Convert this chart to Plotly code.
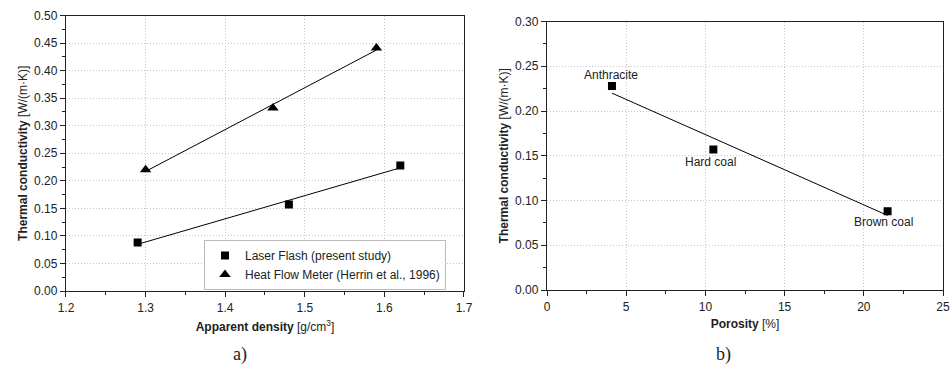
import numpy as np
import plotly.graph_objects as go

# Panel a) data
lf_density = [1.29, 1.48, 1.62]
lf_conductivity = [0.088, 0.157, 0.228]
hfm_density = [1.30, 1.46, 1.59]
hfm_conductivity = [0.220, 0.332, 0.441]

# Panel b) data
coal_types = ["Anthracite", "Hard coal", "Brown coal"]
porosity = [4.1, 10.5, 21.5]
coal_conductivity = [0.228, 0.157, 0.088]

FONT = "Liberation Sans, Arial, sans-serif"


def fit_line(x, y):
    k, b = np.polyfit(x, y, 1)
    xs = np.array([min(x), max(x)])
    return xs, k * xs + b


fig = go.Figure()

# Panel a
fx, fy = fit_line(lf_density, lf_conductivity)
fig.add_trace(go.Scatter(x=fx, y=fy, mode="lines", line=dict(color="black", width=1),
                         showlegend=False, xaxis="x", yaxis="y", hoverinfo="skip"))
fx, fy = fit_line(hfm_density, hfm_conductivity)
fig.add_trace(go.Scatter(x=fx, y=fy, mode="lines", line=dict(color="black", width=1),
                         showlegend=False, xaxis="x", yaxis="y", hoverinfo="skip"))
fig.add_trace(go.Scatter(x=lf_density, y=lf_conductivity, mode="markers",
                         marker=dict(symbol="square", size=8, color="black"),
                         name="Laser Flash (present study)", xaxis="x", yaxis="y"))
fig.add_trace(go.Scatter(x=hfm_density, y=hfm_conductivity, mode="markers",
                         marker=dict(symbol="triangle-up", size=10, color="black"),
                         name="Heat Flow Meter (Herrin et al., 1996)", xaxis="x", yaxis="y"))

# Panel b
fx, fy = fit_line(porosity, coal_conductivity)
fig.add_trace(go.Scatter(x=fx, y=fy, mode="lines", line=dict(color="black", width=1),
                         showlegend=False, xaxis="x2", yaxis="y2", hoverinfo="skip"))
fig.add_trace(go.Scatter(x=porosity, y=coal_conductivity, mode="markers",
                         marker=dict(symbol="square", size=8, color="black"),
                         showlegend=False, xaxis="x2", yaxis="y2"))

label_pos = [(4.02, 0.2406), (10.29, 0.1434), (21.23, 0.0763)]
for name, (lx, ly) in zip(coal_types, label_pos):
    fig.add_annotation(x=lx, y=ly, xref="x2", yref="y2", text=name, showarrow=False,
                       font=dict(family=FONT, size=12, color="#222"))

axis_common = dict(
    showline=True, linecolor="#222", linewidth=1.3, mirror=True,
    ticks="outside", ticklen=5, tickwidth=1, tickcolor="#222",
    showgrid=True, gridcolor="#c4c4c4", griddash="1px,2px", gridwidth=1,
    zeroline=False, automargin=False,
    tickfont=dict(family=FONT, size=12, color="#222"),
)

fig.update_layout(
    template="none",
    width=951, height=382,
    margin=dict(l=0, r=0, t=0, b=0, autoexpand=False),
    paper_bgcolor="white", plot_bgcolor="white",
    font=dict(family=FONT, size=12, color="#222"),
    xaxis=dict(domain=[0.0694, 0.4879], range=[1.2, 1.7], dtick=0.1, tickformat=".1f",
               minor=dict(ticks="outside", ticklen=3, dtick=0.05, tickcolor="#222", showgrid=False),
               title=dict(text="<b>Apparent density</b> [g/cm<sup>3</sup>]", standoff=9,
                          font=dict(family=FONT, size=12)),
               anchor="y", **axis_common),
    yaxis=dict(domain=[0.2382, 0.9594], range=[0, 0.5], dtick=0.05, tickformat=".2f",
               minor=dict(ticks="outside", ticklen=3, dtick=0.025, tickcolor="#222", showgrid=False),
               title=dict(text="<b>Thermal conductivity</b> [W/(m·K)]", standoff=3,
                          font=dict(family=FONT, size=12)),
               anchor="x", **axis_common),
    xaxis2=dict(domain=[0.5752, 0.9916], range=[0, 25], dtick=5,
                minor=dict(ticks="outside", ticklen=3, dtick=2.5, tickcolor="#222", showgrid=False),
                title=dict(text="<b>Porosity</b> [%]", standoff=7,
                           font=dict(family=FONT, size=12)),
                anchor="y2", **axis_common),
    yaxis2=dict(domain=[0.2408, 0.9437], range=[0, 0.3], dtick=0.05, tickformat=".2f",
                minor=dict(ticks="outside", ticklen=3, dtick=0.025, tickcolor="#222", showgrid=False),
                title=dict(text="<b>Thermal conductivity</b> [W/(m·K)]", standoff=3,
                           font=dict(family=FONT, size=12)),
                anchor="x2", **axis_common),
    legend=dict(x=0.2145, y=0.3717, xanchor="left", yanchor="top",
                bordercolor="#bbbbbb", borderwidth=1, bgcolor="white",
                font=dict(family=FONT, size=12, color="#222"),
                tracegroupgap=0, itemsizing="trace"),
    showlegend=True,
)

for txt, xc in [("a)", 240 / 951), ("b)", 723 / 951)]:
    fig.add_annotation(x=xc, y=(382 - 354) / 382, xref="paper", yref="paper", text=txt,
                       xanchor="center", yanchor="middle",
                       showarrow=False, font=dict(family="Liberation Serif, serif", size=18, color="#222"))

fig.write_html("out.html", config={"displayModeBar": False},
               post_script="document.body.style.margin='0';document.body.style.overflow='hidden';")
